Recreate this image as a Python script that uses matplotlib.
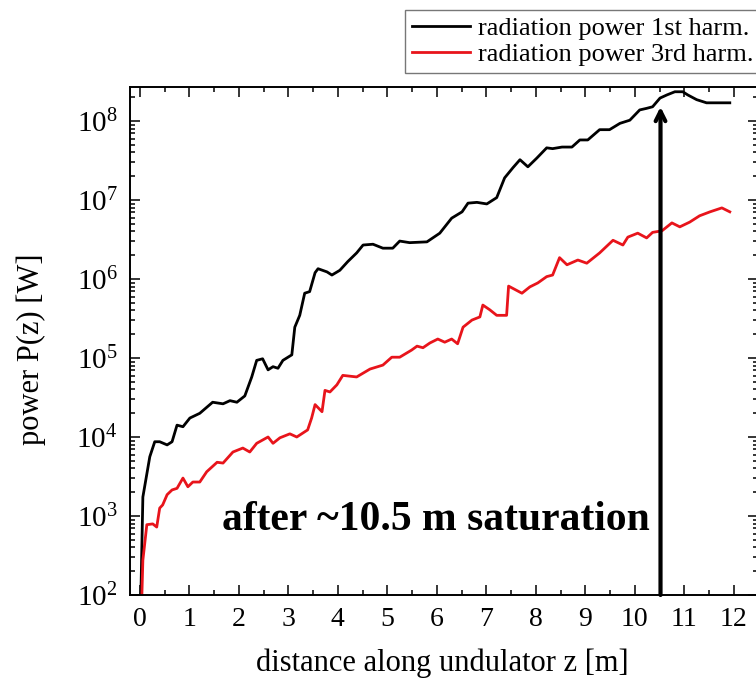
import numpy as np
import matplotlib
matplotlib.use("Agg")
import matplotlib.pyplot as plt
from matplotlib.ticker import MultipleLocator, LogLocator, NullFormatter

# =========================================
# DATA
# =========================================

z_1st = [0.02, 0.06, 0.20, 0.30, 0.40, 0.55, 0.65, 0.75, 0.87, 1.01, 1.21, 1.47,
         1.68, 1.82, 1.96, 2.12, 2.26, 2.36, 2.48, 2.59, 2.69, 2.79, 2.89, 3.07,
         3.13, 3.23, 3.33, 3.43, 3.54, 3.60, 3.78, 3.88, 4.04, 4.20, 4.38, 4.51,
         4.71, 4.91, 5.11, 5.25, 5.45, 5.80, 6.06, 6.30, 6.51, 6.63, 6.81, 7.01,
         7.21, 7.37, 7.54, 7.68, 7.84, 8.02, 8.22, 8.34, 8.53, 8.73, 8.89, 9.05,
         9.29, 9.49, 9.70, 9.90, 10.10, 10.24, 10.36, 10.51, 10.65, 10.81, 10.97,
         11.07, 11.25, 11.45, 11.72, 11.92]
logp_1st = [2.00, 3.24, 3.75, 3.94, 3.94, 3.90, 3.94, 4.15, 4.13, 4.24, 4.30, 4.44,
            4.42, 4.46, 4.44, 4.52, 4.76, 4.97, 4.99, 4.85, 4.89, 4.87, 4.97, 5.04,
            5.39, 5.54, 5.82, 5.84, 6.08, 6.13, 6.09, 6.05, 6.11, 6.22, 6.33, 6.43,
            6.44, 6.39, 6.39, 6.48, 6.46, 6.47, 6.58, 6.77, 6.85, 6.96, 6.97, 6.95,
            7.03, 7.28, 7.41, 7.51, 7.42, 7.53, 7.66, 7.65, 7.67, 7.67, 7.76, 7.76,
            7.89, 7.89, 7.97, 8.01, 8.14, 8.16, 8.18, 8.29, 8.33, 8.37, 8.37,
            8.33, 8.27, 8.23, 8.23, 8.23]

z_3rd = [0.04, 0.06, 0.14, 0.26, 0.34, 0.40, 0.46, 0.55, 0.65, 0.75, 0.87, 0.97,
         1.07, 1.21, 1.35, 1.56, 1.68, 1.88, 2.08, 2.22, 2.36, 2.59, 2.69, 2.83,
         3.03, 3.17, 3.39, 3.47, 3.54, 3.68, 3.74, 3.84, 3.98, 4.10, 4.38, 4.65,
         4.91, 5.09, 5.25, 5.49, 5.60, 5.72, 5.86, 6.02, 6.16, 6.30, 6.42, 6.53,
         6.71, 6.87, 6.93, 7.07, 7.21, 7.41, 7.45, 7.72, 7.88, 8.04, 8.22, 8.34,
         8.48, 8.63, 8.85, 9.03, 9.29, 9.56, 9.76, 9.86, 10.06, 10.24, 10.36,
         10.55, 10.75, 10.91, 11.11, 11.31, 11.52, 11.76, 11.92]
logp_3rd = [2.00, 2.44, 2.89, 2.90, 2.86, 3.10, 3.14, 3.27, 3.33, 3.35, 3.48, 3.37,
            3.43, 3.43, 3.56, 3.68, 3.67, 3.81, 3.86, 3.81, 3.92, 4.00, 3.92, 3.99,
            4.04, 4.00, 4.09, 4.24, 4.41, 4.32, 4.59, 4.57, 4.66, 4.78, 4.76, 4.86,
            4.91, 5.01, 5.01, 5.10, 5.15, 5.13, 5.19, 5.24, 5.20, 5.24, 5.18, 5.39,
            5.48, 5.52, 5.67, 5.61, 5.54, 5.54, 5.91, 5.82, 5.90, 5.95, 6.03, 6.05,
            6.27, 6.18, 6.24, 6.20, 6.33, 6.49, 6.43, 6.53, 6.58, 6.52, 6.59,
            6.61, 6.71, 6.66, 6.72, 6.80, 6.85, 6.90, 6.85]

labels = ["radiation power 1st harm.", "radiation power 3rd harm."]
x_ticks = list(range(0, 13))
saturation_z = 10.52

p_1st = 10 ** np.array(logp_1st)
p_3rd = 10 ** np.array(logp_3rd)

# =========================================
# STYLE
# =========================================

plt.rcParams["font.family"] = ["Liberation Serif", "DejaVu Serif"]
plt.rcParams["mathtext.fontset"] = "custom"
plt.rcParams["mathtext.rm"] = "Liberation Serif"
plt.rcParams["mathtext.it"] = "Liberation Serif:italic"
plt.rcParams["mathtext.bf"] = "Liberation Serif:bold"

fig = plt.figure(figsize=(7.56, 6.91), dpi=100)
ax = fig.add_axes([130/756, 96/691, 628/756, 508.3/691])

# =========================================
# CURVES
# =========================================

ax.plot(z_1st, p_1st, color="black", lw=2.0, label=labels[0])
ax.plot(z_3rd, p_3rd, color="#e8141b", lw=2.0, label=labels[1])

ax.set_yscale("log")
ax.set_xlim(-0.2, 12.49)
ax.set_ylim(1e2, 10 ** 8.434)

# =========================================
# TICKS
# =========================================

ax.set_xticks(x_ticks)
ax.xaxis.set_minor_locator(MultipleLocator(0.5))
ax.yaxis.set_major_locator(LogLocator(base=10, numticks=20))
ax.yaxis.set_minor_locator(LogLocator(base=10, subs=np.arange(2, 10), numticks=20))
ax.yaxis.set_minor_formatter(NullFormatter())

ax.tick_params(which="both", direction="in", top=True, right=True, width=1.1)
ax.tick_params(which="major", length=7)
ax.tick_params(which="minor", length=3.5)
ax.tick_params(axis="x", which="major", labelsize=20, pad=9)
ax.tick_params(axis="y", which="major", labelsize=21, pad=9)
for s in ax.spines.values():
    s.set_linewidth(1.4)

ax.set_xlabel("distance along undulator z [m]", fontsize=22)
ax.set_ylabel("power P(z) [W]", fontsize=22)
ax.xaxis.set_label_coords(0.498, -0.106)
ax.yaxis.set_label_coords(-0.134, 0.483)

# =========================================
# ARROW + TEXT
# =========================================

ax.annotate("", xy=(saturation_z, 10 ** 8.18), xytext=(saturation_z, 1e2),
            arrowprops=dict(arrowstyle="->,head_length=0.7,head_width=0.35",
                            lw=3, color="black", shrinkA=0, shrinkB=0))
ax.text(10.3, 10 ** 2.82, "after ~10.5 m saturation", fontsize=30,
        fontweight="bold", ha="right", va="baseline")

# =========================================
# LEGEND
# =========================================

leg = ax.legend(loc="upper right", bbox_to_anchor=(760/756, 1 - 10/691),
                bbox_transform=fig.transFigure, fontsize=19, frameon=True,
                fancybox=False, borderaxespad=0, handlelength=2.2,
                handletextpad=0.3, labelspacing=0.1, borderpad=0.25)
leg.get_frame().set_edgecolor("#555555")
leg.get_frame().set_linewidth(1.0)

fig.savefig("out.png", dpi=100)
